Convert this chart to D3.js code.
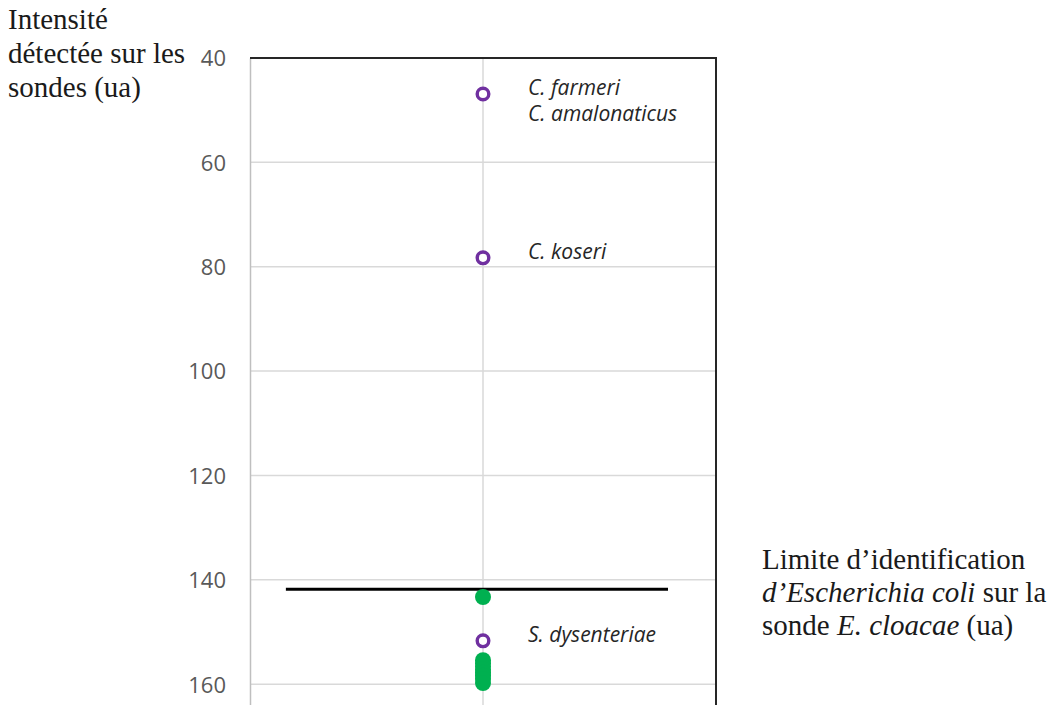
<!DOCTYPE html>
<html>
<head>
<meta charset="utf-8">
<script src="https://cdn.jsdelivr.net/npm/d3@7"></script>
<style>
  body { margin: 0; background: #fff; }
  .tick text { font-family: "Open Sans", sans-serif; font-size: 22px; fill: #595959; }
  .serif { font-family: "Liberation Serif", "Times New Roman", serif; fill: #1a1a1a; }
  .species { font-family: "Open Sans", sans-serif; font-style: italic; font-size: 21px; fill: #262626; }
</style>
</head>
<body>
<svg width="1053" height="705"></svg>
<script>
// values (probe intensity, ua)
var yTicks = [40, 60, 80, 100, 120, 140, 160];
var purpleValues = [46.9, 78.3, 151.7];
var greenValues = [143.3, 155.4, 156, 156.6, 157.2, 157.8, 158.4, 159, 159.8];
var labelValues = [46.9, 78.3, 151.7];
var labelTexts = [["C. farmeri", "C. amalonaticus"], ["C. koseri"], ["S. dysenteriae"]];
var limitValue = 141.8;
var limitExtent = [0.077, 0.897];
var titleLines = ["Intensité", "détectée sur les", "sondes (ua)"];

var svg = d3.select("svg"),
  margin = { top: 58, right: 337, bottom: 0, left: 250 },
  width = svg.attr("width") - margin.left - margin.right,
  height = svg.attr("height") - margin.top - margin.bottom,
  g = svg.append("g").attr("transform", "translate(" + margin.left + "," + margin.top + ")");

var x = d3.scaleLinear().domain([0, 1]).range([0, width]),
  y = d3.scaleLinear().domain([40, 164]).range([0, height]);

// horizontal gridlines
g.selectAll(".grid")
  .data(yTicks)
  .enter().append("line")
  .attr("class", "grid")
  .attr("x1", 0).attr("x2", width)
  .attr("y1", function(d) { return y(d); })
  .attr("y2", function(d) { return y(d); })
  .attr("stroke", "#d9d9d9")
  .attr("stroke-width", 1.5);

// category gridline
g.append("line")
  .attr("x1", x(0.5)).attr("x2", x(0.5))
  .attr("y1", 0).attr("y2", height)
  .attr("stroke", "#d9d9d9")
  .attr("stroke-width", 1.5);

// y axis
var yAxis = g.append("g")
  .attr("class", "axis axis--y")
  .call(d3.axisLeft(y).tickValues(yTicks).tickSize(0).tickPadding(24));
yAxis.select(".domain").attr("stroke", "#bfbfbf").attr("stroke-width", 1.5);
yAxis.selectAll(".tick text").attr("dy", "0.36em");

// top and right frame
g.append("path")
  .attr("d", "M0," + y(40) + "H" + width + "V" + height)
  .attr("fill", "none")
  .attr("stroke", "#262626")
  .attr("stroke-width", 2);

// identification limit
g.append("line")
  .attr("x1", x(limitExtent[0])).attr("x2", x(limitExtent[1]))
  .attr("y1", y(limitValue)).attr("y2", y(limitValue))
  .attr("stroke", "#000")
  .attr("stroke-width", 3);

// green points
g.selectAll(".green")
  .data(greenValues)
  .enter().append("circle")
  .attr("class", "green")
  .attr("cx", x(0.5))
  .attr("cy", function(d) { return y(d); })
  .attr("r", 8)
  .attr("fill", "#00b050");

// purple points
g.selectAll(".purple")
  .data(purpleValues)
  .enter().append("circle")
  .attr("class", "purple")
  .attr("cx", x(0.5))
  .attr("cy", function(d) { return y(d); })
  .attr("r", 5.8)
  .attr("fill", "#fff")
  .attr("stroke", "#7030a0")
  .attr("stroke-width", 3.4);

// species labels
var labels = g.selectAll(".species")
  .data(labelValues)
  .enter().append("text")
  .attr("class", "species")
  .attr("x", x(0.5) + 45)
  .attr("y", function(d) { return y(d) + 1; });
labels.selectAll("tspan")
  .data(function(d, i) { return labelTexts[i]; })
  .enter().append("tspan")
  .attr("x", x(0.5) + 45)
  .attr("dy", function(d, i) { return i === 0 ? 0 : 26; })
  .text(function(d) { return d; });

// y title
svg.append("text")
  .attr("class", "serif")
  .style("font-size", "29px")
  .selectAll("tspan")
  .data(titleLines)
  .enter().append("tspan")
  .attr("x", 8)
  .attr("y", function(d, i) { return 29 + i * 34; })
  .text(function(d) { return d; });

// limit annotation
var note = svg.append("text")
  .attr("class", "serif")
  .style("font-size", "29px");
note.append("tspan").attr("x", 762).attr("y", 569).text("Limite d\u2019identification");
note.append("tspan").attr("x", 762).attr("y", 602).style("font-style", "italic").text("d\u2019Escherichia coli");
note.append("tspan").text(" sur la");
note.append("tspan").attr("x", 762).attr("y", 635).text("sonde ");
note.append("tspan").style("font-style", "italic").text("E. cloacae");
note.append("tspan").text(" (ua)");
</script>
</body>
</html>
